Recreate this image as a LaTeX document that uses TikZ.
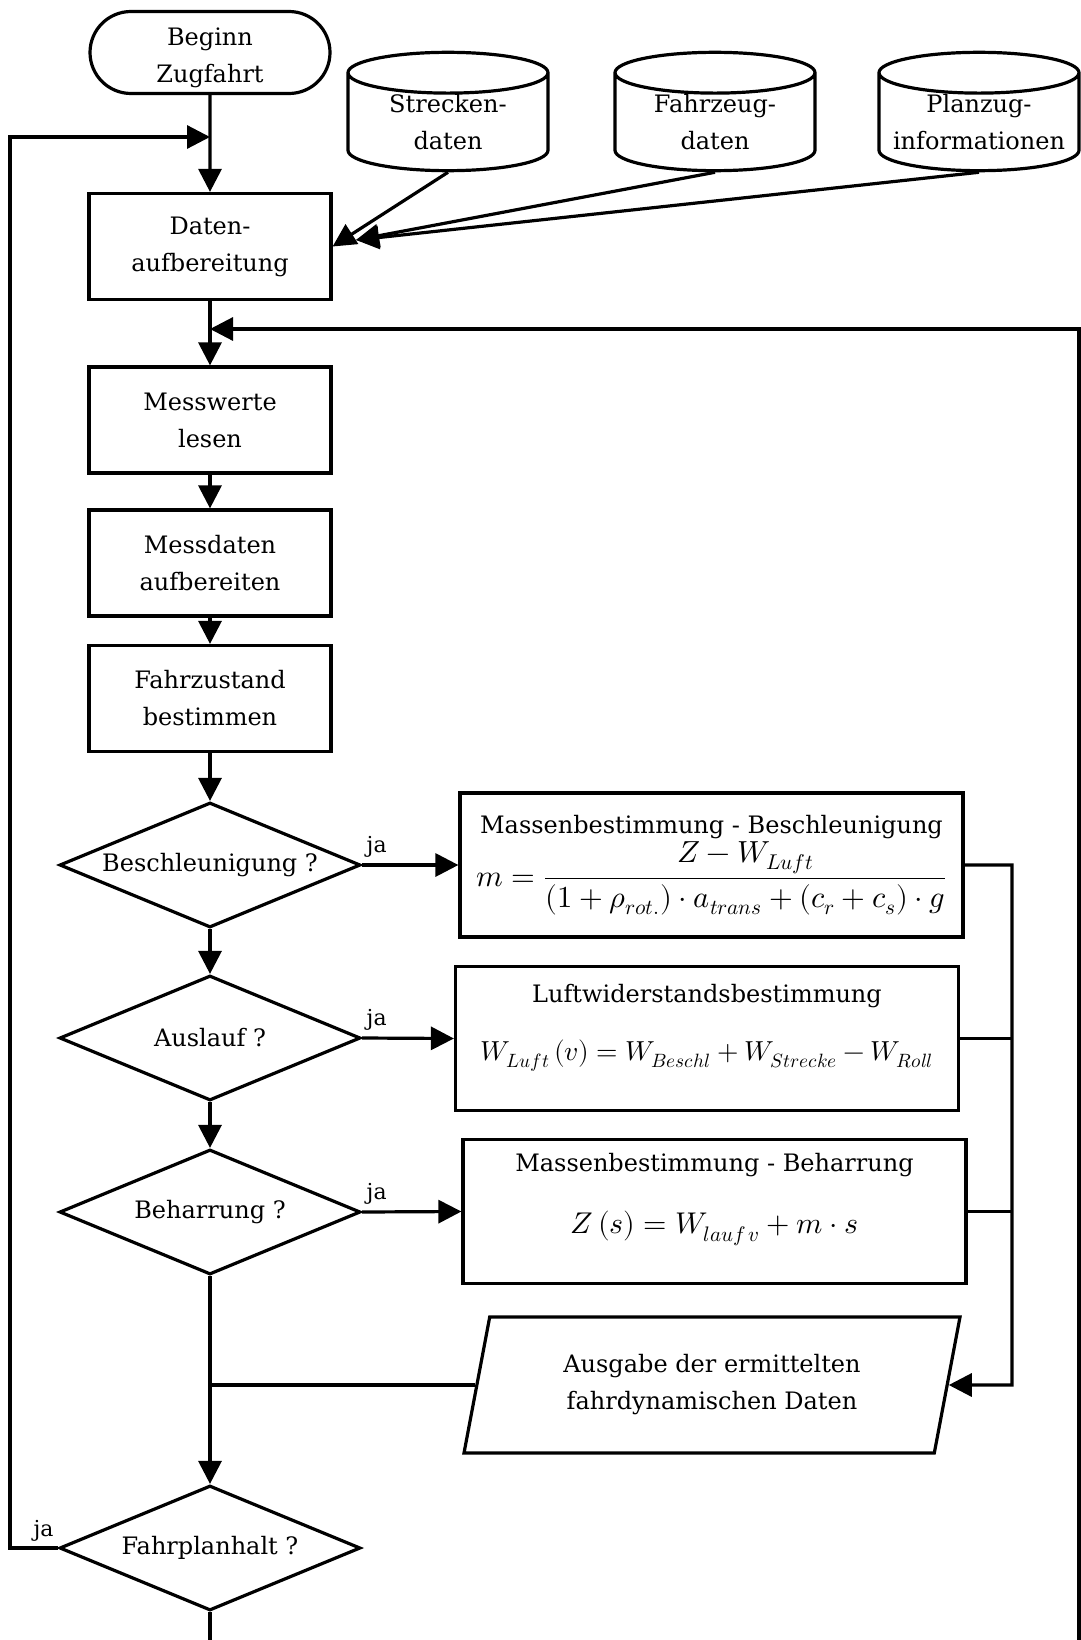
\documentclass[tikz,border=0pt]{standalone}
\usepackage{amsmath}
\usepackage{fontspec}
\setmainfont{DejaVu Serif}
\usepackage{unicode-math}
\setmathfont{Latin Modern Math}
\usetikzlibrary{arrows.meta, shapes.geometric, shapes.misc, calc}
\newcommand{\eqsize}[1]{\fontsize{#1}{34}\selectfont}

\begin{document}
\begin{tikzpicture}[x=1pt, y=-1pt, >={Triangle[length=23pt,width=23pt]}, line width=3.2pt,
	every node/.style={font=\fontsize{24}{37}\selectfont},
	term/.style={draw, rounded rectangle, minimum width=240pt, minimum height=82pt, align=center, inner sep=0pt},
	box/.style={draw, rectangle, minimum width=242pt, minimum height=106pt, align=center, inner sep=0pt},
	dbase/.style={draw, cylinder, shape border rotate=90, aspect=0.3, minimum width=200pt, minimum height=100pt, text width=136pt, align=center, inner sep=0pt},
	decide/.style={draw, diamond, aspect=2.4, minimum width=301pt, minimum height=125pt, inner sep=0pt},
	calcbox/.style={draw, rectangle, minimum width=503pt, minimum height=144pt, align=center, inner sep=0pt},
	outbox/.style={draw, trapezium, trapezium left angle=67, trapezium right angle=113, trapezium stretches body=true, minimum width=496pt, minimum height=136pt, align=center, inner sep=0pt},
	yes/.style={font=\fontsize{22}{26}\selectfont, inner sep=1pt}]
		\useasboundingbox (0,0) rectangle (1080,1640);
		\node[term, text height=66pt, text depth=6pt] (beginn) at (210,52.5) {Beginn\\Zugfahrt};
		\node[dbase] (strecken) at (448,122.5) {Strecken-\\daten};
		\node[dbase] (fahrzeug) at (715,122.5) {Fahrzeug-\\daten};
		\node[dbase] (planzug) at (979,122.5) {Planzug-\\\makebox[136pt]{informationen}};
		\node[box] (daten) at (210,246.5) {Daten-\\aufbereitung};
		\node[box] (messwerte) at (210,420) {Messwerte\\lesen};
		\node[box] (messdaten) at (210,563) {Messdaten\\aufbereiten};
		\node[box] (fahrzustand) at (210,698.5) {Fahrzustand\\bestimmen};
		\node[decide] (beschl) at (210,865) {Beschleunigung ?};
		\node[decide] (auslauf) at (210,1038) {Auslauf ?};
		\node[decide] (beharr) at (210,1212) {Beharrung ?};
		\node[decide] (halt) at (210,1548) {Fahrplanhalt ?};
		\node[calcbox] (massb) at (711.5,865) {Massenbestimmung - Beschleunigung\\[2pt]{\eqsize{30.5}$m=\dfrac{Z-W_{Luft}}{\left(1+\rho_{rot.}\right)\cdot a_{trans}+\left(c_r+c_s\right)\cdot g}$}};
		\node[calcbox, text depth=32pt] (luft) at (707,1038.5) {Luftwiderstandsbestimmung\\[21pt]{\eqsize{27.5}$W_{Luft}\left(v\right)=W_{Beschl}+W_{Strecke}-W_{Roll}$}};
		\node[calcbox, text depth=36pt] (behar) at (714.5,1211.5) {Massenbestimmung - Beharrung\\[25pt]{\eqsize{30}$Z\left(s\right)=W_{lauf\,v}+m\cdot s$}};
		\node[outbox] (ausgabe) at (712,1385) {Ausgabe der ermittelten\\fahrdynamischen Daten};

		\coordinate (loopin) at (210,137); \coordinate (retin) at (210,329); \coordinate (dIn) at (356,240);
		\coordinate (retfoot) at (1079,1640); \coordinate (coll) at (1012,1385); \coordinate (foot) at (210,1640);

		\draw[->] (beginn) -- (daten);
		\draw[->] (strecken.south) -- (daten.east); \draw[->] (fahrzeug.south) -- (dIn); \draw[->] (planzug.south) -- (dIn);
		\draw[->] (daten) -- (messwerte); \draw[->] (retfoot) |- (retin);
		\draw[->] (messwerte) -- (messdaten); \draw[->] (messdaten) -- (fahrzustand); \draw[->] (fahrzustand) -- (beschl);
		\draw[->] (beschl) -- (auslauf); \draw[->] (auslauf) -- (beharr); \draw[->] (beharr) -- (halt);
		\draw[->] (beschl.east) -- (massb.west) node[yes, pos=0, anchor=south west, xshift=2pt, yshift=5pt] (ja1) {ja};
		\draw[->] (auslauf.east) -- (luft.west) node[yes, pos=0, anchor=south west, xshift=2pt, yshift=5pt] (ja2) {ja};
		\draw[->] (beharr.east) -- (behar.west) node[yes, pos=0, anchor=south west, xshift=2pt, yshift=5pt] (ja3) {ja};
		\draw[->] (massb.east) -| (coll) -- (ausgabe.east); \draw (luft.east) -- (luft.east -| coll); \draw (behar.east) -- (behar.east -| coll);
		\draw (ausgabe.west) -- (ausgabe.west -| beharr.south);
		\draw[->] (halt.west) -- ++(-48,0) node[yes, pos=0.3, anchor=south, yshift=4pt] (ja4) {ja} |- (loopin);
		\draw (halt.south) -- (foot);
	\end{tikzpicture}
\end{document}
